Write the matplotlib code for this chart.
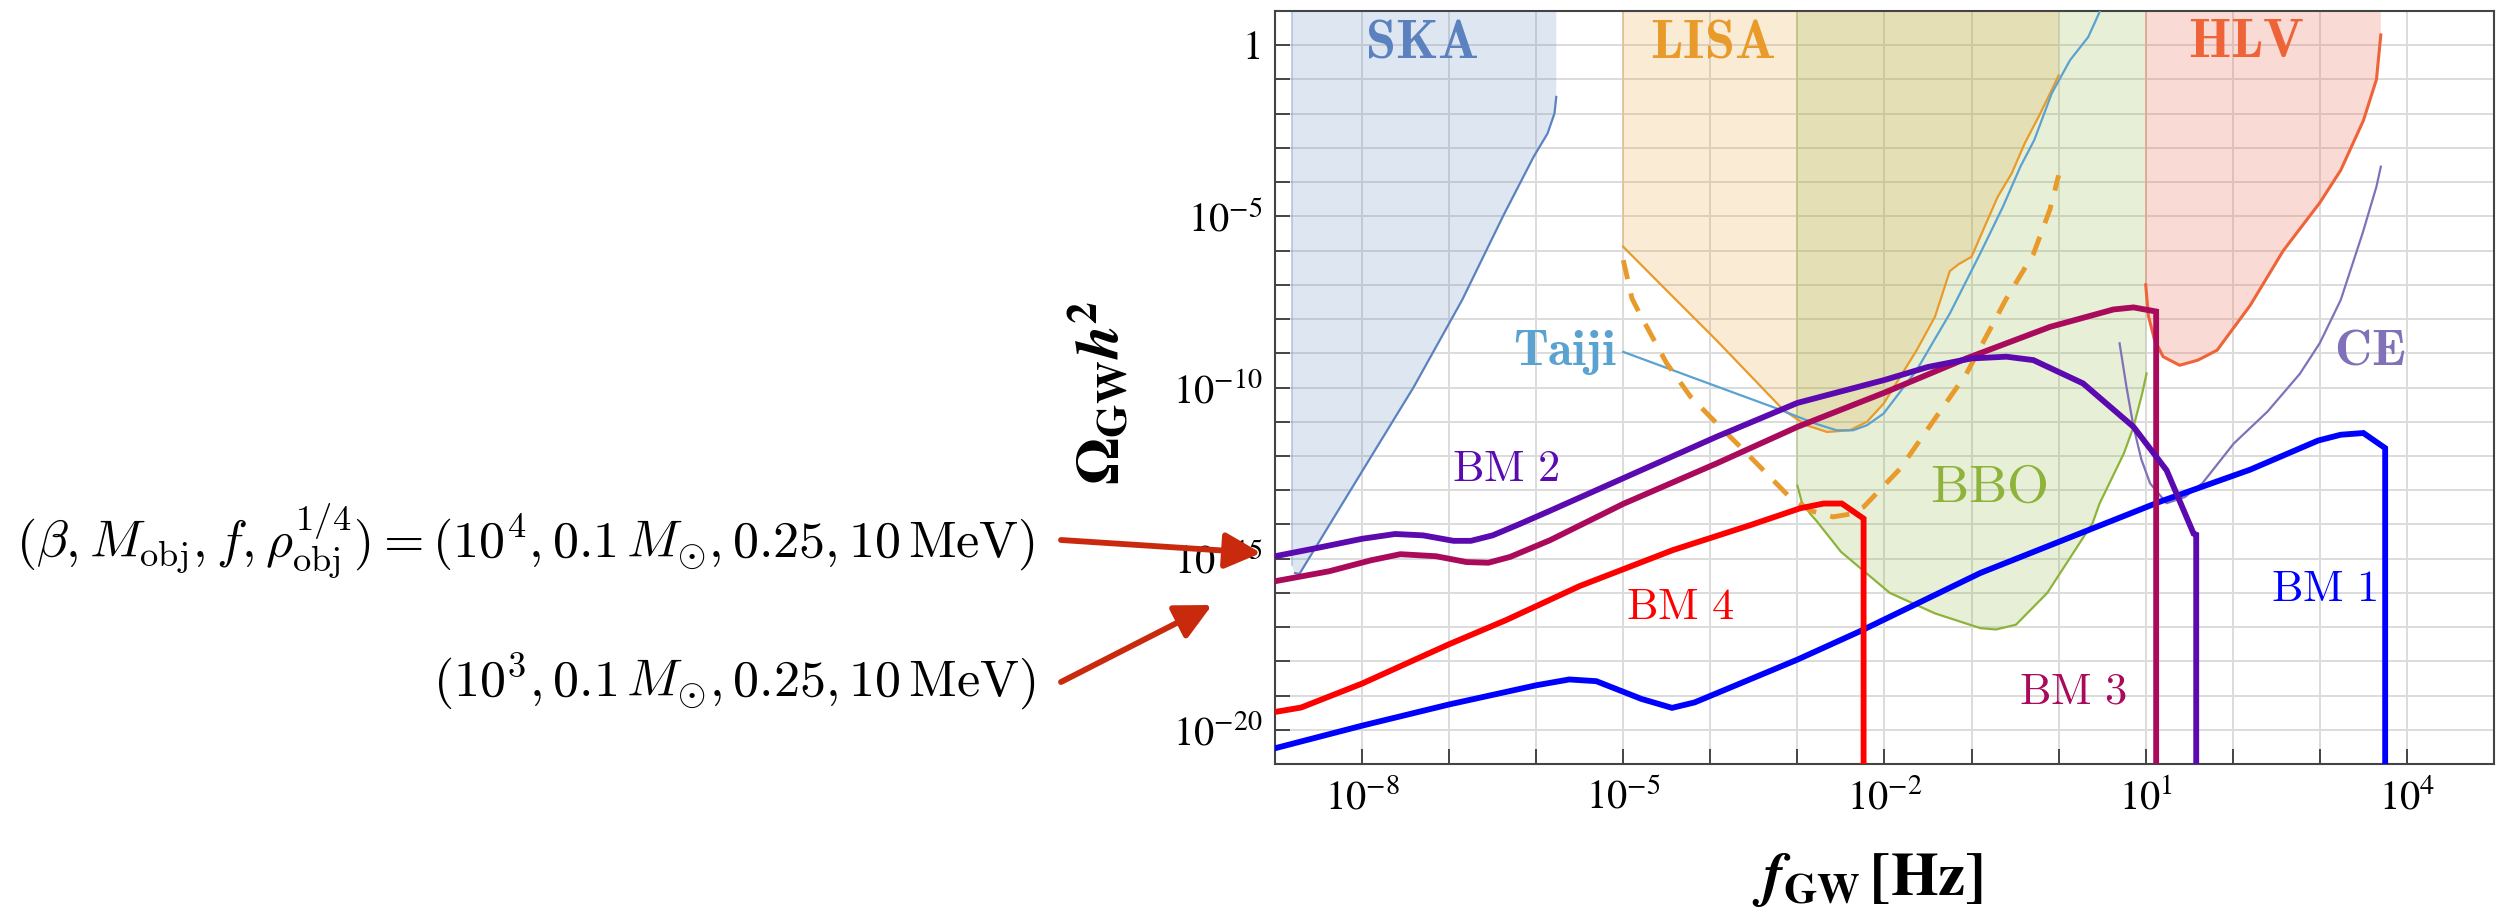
import numpy as np
import matplotlib
matplotlib.use("Agg")
import matplotlib.pyplot as plt
import matplotlib.ticker as mticker
from matplotlib.patches import FancyArrowPatch

plt.rcParams.update({
    "mathtext.fontset": "stix",
    "font.family": "STIXGeneral",
})

W, H = 2506, 922

# all curves: log10(f_GW / Hz) and log10(Omega_GW h^2)
bm1_lf = [-9.0, -8.0, -7.0, -6.0, -5.62, -5.31, -4.79, -4.44, -4.18, -3.0, -2.28,
          -0.9, 1.17, 2.2, 2.98, 3.24, 3.5, 3.75, 3.75]
bm1_lo = [-20.54, -19.88, -19.26, -18.7, -18.53, -18.58, -19.1, -19.36, -19.2, -17.95, -17.12,
          -15.42, -13.33, -12.4, -11.55, -11.38, -11.33, -11.77, -25.0]

bm2_lf = [-9.0, -8.5, -8.0, -7.62, -7.3, -6.95, -6.75, -6.5, -6.2, -5.84, -5.0, -3.93,
          -3.0, -2.0, -1.5, -1.0, -0.6, -0.29, 0.28, 0.86, 1.24, 1.55, 1.58, 1.58]
bm2_lo = [-14.93, -14.68, -14.42, -14.28, -14.32, -14.48, -14.48, -14.32, -14.0, -13.6, -12.65, -11.44,
          -10.45, -9.78, -9.4, -9.15, -9.1, -9.2, -9.88, -11.15, -12.42, -14.27, -14.3, -25.0]

bm3_lf = [-9.0, -8.38, -7.9, -7.56, -7.15, -6.8, -6.55, -6.3, -5.84, -5.0, -3.93, -3.0,
          -2.0, -1.06, -0.1, 0.63, 0.86, 1.12, 1.12]
bm3_lo = [-15.66, -15.37, -15.05, -14.87, -14.93, -15.1, -15.12, -14.95, -14.46, -13.4, -12.22, -11.15,
          -10.15, -9.15, -8.23, -7.72, -7.66, -7.78, -25.0]

bm4_lf = [-9.0, -8.7, -8.4, -8.0, -7.0, -6.35, -5.5, -4.43, -3.54, -2.97, -2.70, -2.49, -2.24, -2.24]
bm4_lo = [-19.48, -19.35, -19.05, -18.65, -17.5, -16.8, -15.8, -14.75, -14.02, -13.53, -13.39, -13.39,
          -13.83, -25.0]

ska_lf = [-8.81, -8.77, -8.72, -8.6, -8.0, -7.41, -6.85, -6.38, -6.03, -5.87, -5.79, -5.77]
ska_lo = [-15.2, -15.42, -15.45, -14.95, -12.45, -10.0, -7.44, -4.99, -3.26, -2.58, -1.99, -1.51]

lisa_lf = [-5.0, -4.5, -3.93, -3.16, -2.9, -2.66, -2.4, -2.2, -2.01, -1.63, -1.42, -1.25, -1.15,
           -1.0, -0.85, -0.7, -0.54, -0.39, -0.23, -0.08, 0.0]
lisa_lo = [-5.89, -7.17, -8.62, -10.66, -11.1, -11.3, -11.25, -11.0, -10.47, -8.91, -7.93, -6.6, -6.4,
           -6.18, -5.3, -4.43, -3.75, -2.87, -2.09, -1.31, -0.88]

lisa_dash_lf = [-5.0, -4.9, -4.8, -4.5, -4.23, -4.0, -3.54, -3.09, -2.85, -2.59, -2.4, -2.24,
                -1.82, -1.5, -1.06, -0.6, -0.29, -0.1, 0.0]
lisa_dash_lo = [-6.28, -7.4, -7.9, -9.3, -10.26, -10.86, -12.03, -13.2, -13.6, -13.78, -13.7, -13.49,
                -12.37, -11.2, -9.6, -7.4, -6.1, -4.8, -3.8]

taiji_lf = [-5.0, -4.0, -3.24, -2.8, -2.55, -2.36, -2.2, -2.01, -1.63, -1.25, -0.9, -0.64,
            -0.44, -0.28, -0.08, 0.13, 0.34, 0.47, 0.55]
taiji_lo = [-8.96, -9.9, -10.61, -11.05, -11.25, -11.25, -11.1, -10.76, -9.49, -7.84, -6.08, -4.72,
            -3.55, -2.77, -1.41, -0.44, 0.24, 0.97, 1.5]

bbo_lf = [-3.0, -2.95, -2.85, -2.78, -2.5, -1.94, -1.42, -0.9, -0.72, -0.49, -0.13, 0.39,
          0.47, 0.75, 0.86, 0.96, 1.01]
bbo_lo = [-12.87, -13.35, -13.7, -13.9, -14.8, -16.0, -16.6, -17.03, -17.07, -16.93, -16.0, -13.96,
          -13.39, -11.92, -11.15, -10.17, -9.59]

hlv_lf = [1.0, 1.03, 1.1, 1.2, 1.39, 1.6, 1.82, 2.2, 2.58, 3.0, 3.24, 3.5, 3.65, 3.7]
hlv_lo = [-7.0, -7.9, -8.6, -9.1, -9.35, -9.2, -8.91, -7.6, -6.0, -4.6, -3.65, -2.2, -1.0, 0.3]

ce_lf = [0.7, 0.78, 0.86, 0.95, 1.05, 1.24, 1.45, 1.65, 2.01, 2.4, 2.77, 3.0, 3.24, 3.49, 3.65, 3.7]
ce_lo = [-8.71, -10.0, -11.15, -12.1, -12.8, -13.38, -13.2, -12.8, -11.64, -10.7, -9.6, -8.7,
         -7.44, -5.5, -4.13, -3.55]

x_decades = list(range(-9, 6))
y_decades = list(range(-21, 2))
x_labelled = [-8, -5, -2, 1, 4]
y_labelled = [0, -5, -10, -15, -20]

C_BM1, C_BM2, C_BM3, C_BM4 = "#0000ff", "#5a0aae", "#aa0a5c", "#ff0000"
C_SKA, C_LISA, C_TAIJI = "#5b82be", "#e89b2a", "#5aa2d0"
C_BBO, C_HLV, C_CE = "#8db33a", "#ee6438", "#8171b9"


def p(v):
    return 10.0 ** np.asarray(v)


fig = plt.figure(figsize=(W / 100, H / 100), dpi=100)
ax = fig.add_axes([1275 / W, 1 - 764 / H, 1219 / W, 753 / H])
ax.set_xscale("log")
ax.set_yscale("log")
ax.set_xlim(1e-9, 1e5)
ax.set_ylim(1e-21, 1e1)
ax.set_axisbelow(True)

TOP = 1.0


def region(lf, lo, color, alpha):
    xs = [lf[0]] + list(lf) + [lf[-1]]
    ys = [TOP] + list(lo) + [TOP]
    ax.fill(p(xs), p(ys), facecolor=color, alpha=alpha, edgecolor="none", zorder=1)
    ax.plot(p([lf[0], lf[0]]), p([TOP, lo[0]]), color=color, alpha=0.35, lw=1.2, zorder=1)


region(ska_lf, ska_lo, C_SKA, 0.2)
region(lisa_lf, lisa_lo, C_LISA, 0.2)
region(bbo_lf, bbo_lo, C_BBO, 0.2)
region(hlv_lf, hlv_lo, "#f07860", 0.27)

ax.plot(p(ska_lf[1:]), p(ska_lo[1:]), color=C_SKA, lw=1.6, zorder=3)
ax.plot(p(lisa_lf), p(lisa_lo), color=C_LISA, lw=1.6, zorder=3)
ax.plot(p(taiji_lf), p(taiji_lo), color=C_TAIJI, lw=1.6, zorder=3)
ax.plot(p(bbo_lf), p(bbo_lo), color=C_BBO, lw=1.6, zorder=3)
ax.plot(p(hlv_lf), p(hlv_lo), color=C_HLV, lw=2.2, zorder=3)
ax.plot(p(ce_lf), p(ce_lo), color=C_CE, lw=1.6, zorder=3)
ax.plot(p(lisa_dash_lf), p(lisa_dash_lo), color=C_LISA, lw=3.5, ls=(0, (4, 3)), zorder=3)

for lf, lo, c in [(bm1_lf, bm1_lo, C_BM1), (bm4_lf, bm4_lo, C_BM4),
                  (bm3_lf, bm3_lo, C_BM3), (bm2_lf, bm2_lo, C_BM2)]:
    ax.plot(p(lf), p(lo), color=c, lw=4.2, zorder=5, solid_joinstyle="miter")

# region and benchmark labels
bold_labels = [("SKA", -7.32, -0.36, C_SKA, "center", 39), ("LISA", -3.97, -0.36, C_LISA, "center", 39),
               ("HLV", 2.15, -0.34, C_HLV, "center", 39), ("Taiji", -5.08, -9.34, C_TAIJI, "right", 36),
               ("CE", 3.57, -9.34, C_CE, "center", 37)]
for s, lf, lo, c, ha, fs in bold_labels:
    ax.text(p(lf), p(lo), r"$\mathbf{%s}$" % s, color=c, fontsize=fs, ha=ha, va="baseline",
            math_fontfamily="cm", zorder=6)

ax.text(p(-0.80), p(-13.34), r"$\mathrm{BBO}$", color=C_BBO, fontsize=39, ha="center",
        va="baseline", math_fontfamily="cm", zorder=6)
for s, lf, lo, c in [("BM\\ 1", 3.05, -16.24, C_BM1), ("BM\\ 2", -6.35, -12.74, C_BM2),
                     ("BM\\ 3", 0.157, -19.23, C_BM3), ("BM\\ 4", -4.35, -16.76, C_BM4)]:
    ax.text(p(lf), p(lo), r"$\mathrm{%s}$" % s, color=c, fontsize=32, ha="center",
            va="baseline", math_fontfamily="cm", zorder=6)

# axes styling
ax.xaxis.set_major_locator(mticker.FixedLocator(p(x_decades)))
ax.yaxis.set_major_locator(mticker.FixedLocator(p(y_decades)))
ax.xaxis.set_minor_locator(mticker.NullLocator())
ax.yaxis.set_minor_locator(mticker.NullLocator())


def fmt_factory(labelled):
    def fmt(v, _):
        e = int(round(np.log10(v)))
        if e not in labelled:
            return ""
        return "1" if e == 0 else r"$10^{%d}$" % e
    return fmt


ax.xaxis.set_major_formatter(mticker.FuncFormatter(fmt_factory(x_labelled)))
ax.yaxis.set_major_formatter(mticker.FuncFormatter(fmt_factory(y_labelled)))
ax.tick_params(which="major", direction="in", length=11, width=1.4, color="#444444",
               labelsize=29, top=False, right=False)
ax.tick_params(axis="x", pad=11)
ax.tick_params(axis="y", pad=9)
ax.grid(True, color="#dcdcdc", lw=1.4)
for sp in ax.spines.values():
    sp.set_color("#444444")
    sp.set_linewidth(1.5)

fig.text(1868 / W, 1 - 880 / H, r"$\mathbfit{f}_{\mathbf{GW}}\,\mathbf{[Hz]}$",
         fontsize=44, ha="center", va="center")
fig.text(1100 / W, 1 - 393 / H, r"$\mathbf{\Omega}_{\mathbf{GW}}\mathbfit{h}^{\mathbf{2}}$",
         fontsize=44, ha="center", va="center", rotation=90)

# benchmark annotations on the left
fig.text(1035 / W, 1 - 541 / H,
         r"$(\beta, M_{\mathrm{obj}}, f, \rho_{\mathrm{obj}}^{1/4}) = (10^4, 0.1\,M_{\odot}, 0.25, 10\,\mathrm{MeV})$",
         fontsize=37.5, ha="right", va="center", math_fontfamily="cm")
fig.text(1035 / W, 1 - 682 / H, r"$(10^3, 0.1\,M_{\odot}, 0.25, 10\,\mathrm{MeV})$",
         fontsize=37.5, ha="right", va="center", math_fontfamily="cm")

for (x0, y0), (x1, y1) in [((1061, 540), (1261, 553)), ((1061, 682), (1212, 605))]:
    arr = FancyArrowPatch((x0 / W, 1 - y0 / H), (x1 / W, 1 - y1 / H),
                          transform=fig.transFigure, arrowstyle="-|>,head_length=1.0,head_width=0.5",
                          mutation_scale=22, color="#c92a0e", lw=4.2, shrinkA=0, shrinkB=0)
    fig.add_artist(arr)

fig.savefig("out.png", dpi=100)
